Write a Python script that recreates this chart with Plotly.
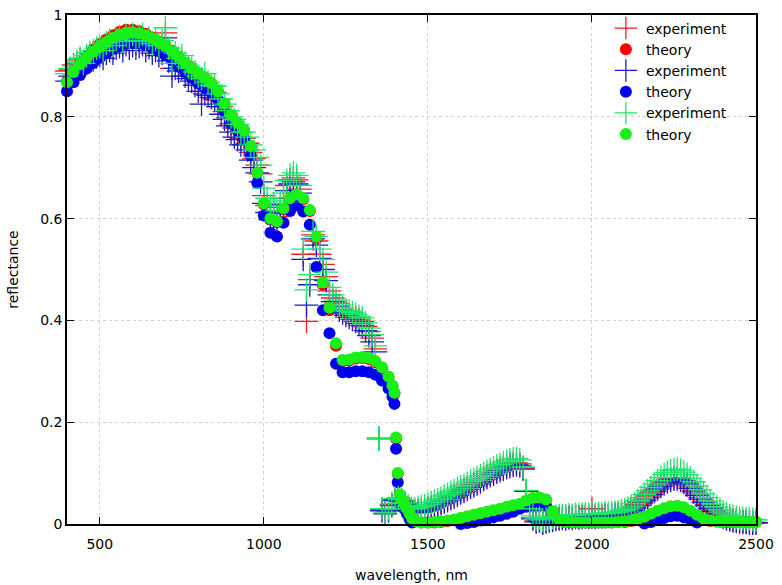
import plotly.graph_objects as go

# ---------------- data ----------------
# experiment wavelength grid (nm)
exp_wl = list(range(400, 2501, 10))

exp_green = [
    0.885, 0.895, 0.900, 0.908, 0.915, 0.905, 0.920, 0.926, 0.930, 0.935,
    0.938, 0.930, 0.945, 0.950, 0.940, 0.952, 0.958, 0.948, 0.960, 0.955,
    0.962, 0.950, 0.958, 0.962, 0.948, 0.955, 0.944, 0.952, 0.940, 0.950,
    0.975, 0.935, 0.905, 0.925, 0.915, 0.920, 0.905, 0.898, 0.895, 0.888,
    0.880, 0.875, 0.885, 0.868, 0.862, 0.860, 0.845, 0.835, 0.825, 0.812,
    0.800, 0.795, 0.785, 0.770, 0.770, 0.760, 0.745, 0.735, 0.720, 0.705,
    0.660, 0.640, 0.625, 0.630, 0.615, 0.635, 0.650, 0.675, 0.685, 0.690,
    0.685, 0.665, 0.540, 0.460, 0.490, 0.575, 0.565, 0.540, 0.520, 0.495,
    0.465, 0.450, 0.440, 0.430, 0.425, 0.420, 0.418, 0.415, 0.412, 0.408,
    0.405, 0.395, 0.385, 0.372, 0.350, 0.168, 0.030, 0.022, 0.030, 0.040,
    0.050, 0.052, 0.048, 0.042, 0.035, 0.030, 0.030, 0.032, 0.034, 0.036,
    0.039, 0.042, 0.045, 0.048, 0.051, 0.055, 0.058, 0.062, 0.065, 0.069,
    0.073, 0.076, 0.080, 0.084, 0.087, 0.091, 0.095, 0.099, 0.103, 0.107,
    0.110, 0.114, 0.117, 0.120, 0.123, 0.126, 0.128, 0.129, 0.126, 0.112,
    0.066, 0.030, 0.016, 0.010, 0.012, 0.008, 0.010, 0.012, 0.013, 0.015,
    0.016, 0.017, 0.016, 0.018, 0.017, 0.019, 0.018, 0.019, 0.020, 0.019,
    0.020, 0.019, 0.021, 0.020, 0.022, 0.021, 0.022, 0.023, 0.024, 0.026,
    0.028, 0.031, 0.035, 0.040, 0.046, 0.052, 0.058, 0.065, 0.072, 0.079,
    0.085, 0.091, 0.097, 0.101, 0.105, 0.107, 0.108, 0.106, 0.102, 0.097,
    0.090, 0.083, 0.075, 0.067, 0.059, 0.052, 0.045, 0.039, 0.033, 0.028,
    0.024, 0.020, 0.017, 0.015, 0.013, 0.012, 0.011, 0.010, 0.010, 0.009,
    0.008,
]

exp_blue = [
    0.870, 0.880, 0.885, 0.890, 0.896, 0.895, 0.905, 0.910, 0.912, 0.918,
    0.920, 0.915, 0.925, 0.930, 0.925, 0.935, 0.938, 0.930, 0.942, 0.935,
    0.940, 0.935, 0.938, 0.942, 0.930, 0.936, 0.925, 0.930, 0.920, 0.925,
    0.955, 0.910, 0.880, 0.895, 0.890, 0.895, 0.880, 0.875, 0.870, 0.862,
    0.850, 0.825, 0.845, 0.842, 0.838, 0.835, 0.820, 0.805, 0.795, 0.782,
    0.770, 0.760, 0.755, 0.745, 0.745, 0.735, 0.715, 0.700, 0.690, 0.672,
    0.630, 0.612, 0.598, 0.600, 0.592, 0.610, 0.628, 0.655, 0.668, 0.672,
    0.668, 0.650, 0.520, 0.430, 0.470, 0.560, 0.548, 0.522, 0.500, 0.478,
    0.450, 0.437, 0.428, 0.420, 0.415, 0.410, 0.406, 0.402, 0.398, 0.394,
    0.390, 0.380, 0.370, 0.358, 0.338, 0.168, 0.026, 0.020, 0.026, 0.036,
    0.046, 0.048, 0.044, 0.038, 0.030, 0.024, 0.022, 0.023, 0.024, 0.026,
    0.028, 0.031, 0.034, 0.037, 0.040, 0.043, 0.046, 0.050, 0.053, 0.057,
    0.061, 0.064, 0.068, 0.072, 0.075, 0.079, 0.083, 0.087, 0.091, 0.095,
    0.098, 0.102, 0.105, 0.108, 0.111, 0.113, 0.115, 0.116, 0.114, 0.108,
    0.064, 0.026, 0.010, 0.004, 0.006, 0.002, 0.004, 0.006, 0.007, 0.009,
    0.010, 0.011, 0.010, 0.012, 0.011, 0.013, 0.012, 0.013, 0.014, 0.013,
    0.014, 0.013, 0.015, 0.014, 0.016, 0.015, 0.016, 0.017, 0.018, 0.020,
    0.021, 0.024, 0.027, 0.031, 0.036, 0.041, 0.046, 0.052, 0.058, 0.064,
    0.069, 0.074, 0.079, 0.083, 0.086, 0.088, 0.088, 0.086, 0.082, 0.077,
    0.070, 0.063, 0.056, 0.049, 0.042, 0.036, 0.030, 0.025, 0.020, 0.016,
    0.013, 0.010, 0.008, 0.006, 0.005, 0.004, 0.003, 0.003, 0.002, 0.002,
    0.002,
]

exp_red = [
    0.890, 0.892, 0.902, 0.905, 0.912, 0.903, 0.915, 0.920, 0.925, 0.928,
    0.930, 0.925, 0.940, 0.942, 0.935, 0.945, 0.950, 0.942, 0.952, 0.946,
    0.952, 0.944, 0.950, 0.955, 0.940, 0.946, 0.936, 0.942, 0.932, 0.940,
    0.965, 0.925, 0.895, 0.912, 0.905, 0.908, 0.893, 0.888, 0.884, 0.876,
    0.866, 0.850, 0.866, 0.856, 0.851, 0.848, 0.833, 0.820, 0.810, 0.798,
    0.786, 0.778, 0.770, 0.758, 0.758, 0.748, 0.730, 0.718, 0.705, 0.688,
    0.645, 0.626, 0.612, 0.615, 0.604, 0.622, 0.640, 0.665, 0.676, 0.680,
    0.676, 0.658, 0.530, 0.398, 0.480, 0.568, 0.556, 0.530, 0.510, 0.486,
    0.458, 0.444, 0.434, 0.425, 0.420, 0.415, 0.412, 0.408, 0.405, 0.401,
    0.398, 0.388, 0.378, 0.365, 0.344, 0.168, 0.028, 0.021, 0.028, 0.038,
    0.048, 0.050, 0.046, 0.040, 0.032, 0.026, 0.025, 0.026, 0.027, 0.029,
    0.031, 0.034, 0.037, 0.040, 0.043, 0.047, 0.050, 0.054, 0.057, 0.061,
    0.065, 0.068, 0.072, 0.076, 0.079, 0.083, 0.087, 0.091, 0.095, 0.099,
    0.102, 0.106, 0.109, 0.112, 0.115, 0.117, 0.119, 0.120, 0.118, 0.110,
    0.065, 0.028, 0.012, 0.006, 0.008, 0.004, 0.006, 0.008, 0.009, 0.011,
    0.012, 0.013, 0.012, 0.014, 0.013, 0.015, 0.014, 0.015, 0.016, 0.015,
    0.030, 0.015, 0.017, 0.016, 0.018, 0.017, 0.018, 0.019, 0.020, 0.022,
    0.023, 0.026, 0.029, 0.033, 0.038, 0.043, 0.049, 0.055, 0.061, 0.067,
    0.072, 0.077, 0.082, 0.086, 0.089, 0.091, 0.091, 0.089, 0.085, 0.080,
    0.073, 0.066, 0.059, 0.052, 0.045, 0.038, 0.032, 0.027, 0.022, 0.018,
    0.015, 0.012, 0.010, 0.008, 0.007, 0.006, 0.005, 0.004, 0.004, 0.003,
    0.003,
]

# theory wavelength grid (nm)
th_wl = [
    400, 420, 440, 460, 480, 500, 520, 540, 560, 580,
    600, 620, 640, 660, 680, 700, 720, 740, 760, 780,
    800, 820, 840, 860, 880, 900, 920, 940, 960, 980,
    1000, 1020, 1040, 1060, 1080, 1100, 1120, 1140, 1160, 1180,
    1200, 1220, 1240, 1260, 1280, 1300, 1320, 1340, 1360, 1380,
    1392, 1398, 1403, 1408, 1414, 1420, 1428, 1436, 1444, 1452, 1460,
    1480, 1500, 1520, 1540, 1560, 1580, 1600, 1620, 1640, 1660,
    1680, 1700, 1720, 1740, 1760, 1780, 1800, 1820, 1840, 1860,
    1880, 1900, 1920, 1940, 1960, 1980, 2000, 2020, 2040, 2060,
    2080, 2100, 2120, 2140, 2160, 2180, 2200, 2220, 2240, 2260,
    2280, 2300, 2320, 2340, 2360, 2380, 2400, 2420, 2440, 2460,
    2480, 2500,
]

th_green = [
    0.868, 0.888, 0.903, 0.916, 0.928, 0.938, 0.947, 0.955, 0.961, 0.965,
    0.966, 0.964, 0.960, 0.954, 0.947, 0.939, 0.929, 0.918, 0.906, 0.895,
    0.885, 0.876, 0.866, 0.850, 0.826, 0.803, 0.788, 0.773, 0.742, 0.690,
    0.630, 0.600, 0.595, 0.620, 0.640, 0.648, 0.640, 0.617, 0.565, 0.475,
    0.425, 0.355, 0.322, 0.323, 0.327, 0.328, 0.326, 0.320, 0.308, 0.290,
    0.272, 0.258, 0.170, 0.100, 0.058, 0.048, 0.040, 0.030, 0.020, 0.011, 0.006,
    0.003, 0.003, 0.004, 0.005, 0.007, 0.009, 0.012, 0.015, 0.018, 0.021,
    0.024, 0.027, 0.030, 0.034, 0.037, 0.040, 0.046, 0.051, 0.052, 0.048,
    0.025, 0.008, 0.004, 0.003, 0.003, 0.003, 0.003, 0.003, 0.003, 0.003,
    0.004, 0.005, 0.007, 0.010, 0.014, 0.020, 0.026, 0.031, 0.035, 0.036,
    0.033, 0.026, 0.018, 0.011, 0.007, 0.005, 0.004, 0.004, 0.004, 0.004,
    0.004, 0.004,
]

th_blue = [
    0.850, 0.868, 0.882, 0.895, 0.906, 0.916, 0.925, 0.933, 0.939, 0.943,
    0.945, 0.944, 0.941, 0.936, 0.929, 0.921, 0.911, 0.900, 0.888, 0.877,
    0.866, 0.857, 0.848, 0.833, 0.810, 0.787, 0.772, 0.756, 0.724, 0.670,
    0.606, 0.572, 0.565, 0.592, 0.615, 0.626, 0.614, 0.588, 0.505, 0.420,
    0.375, 0.315, 0.298, 0.298, 0.300, 0.300, 0.298, 0.293, 0.282, 0.266,
    0.250, 0.236, 0.148, 0.082, 0.046, 0.038, 0.030, 0.020, 0.010, 0.003, -0.002,
    -0.004, -0.005, -0.005, -0.004, -0.003, -0.002, 0.000, 0.002, 0.004, 0.007,
    0.010, 0.013, 0.016, 0.020, 0.024, 0.030, 0.034, 0.040, 0.041, 0.036,
    0.012, -0.003, -0.006, -0.007, -0.007, -0.007, -0.007, -0.007, -0.006, -0.006,
    -0.005, -0.004, -0.003, -0.001, 0.001, 0.004, 0.008, 0.012, 0.015, 0.016,
    0.013, 0.008, 0.003, -0.001, -0.004, -0.005, -0.006, -0.006, -0.006, -0.006,
    -0.005, -0.005,
]

th_red = [
    0.870, 0.890, 0.906, 0.919, 0.932, 0.943, 0.952, 0.960, 0.967, 0.971,
    0.971, 0.968, 0.963, 0.956, 0.948, 0.940, 0.930, 0.918, 0.906, 0.895,
    0.885, 0.876, 0.866, 0.850, 0.826, 0.803, 0.788, 0.773, 0.742, 0.690,
    0.628, 0.598, 0.593, 0.618, 0.638, 0.646, 0.638, 0.615, 0.560, 0.470,
    0.420, 0.350, 0.320, 0.321, 0.325, 0.326, 0.324, 0.318, 0.306, 0.288,
    0.270, 0.256, 0.168, 0.098, 0.056, 0.047, 0.039, 0.029, 0.019, 0.010, 0.005,
    0.003, 0.003, 0.003, 0.004, 0.006, 0.008, 0.011, 0.014, 0.017, 0.020,
    0.023, 0.026, 0.029, 0.033, 0.036, 0.039, 0.045, 0.050, 0.051, 0.047,
    0.024, 0.007, 0.004, 0.003, 0.003, 0.003, 0.003, 0.003, 0.003, 0.003,
    0.004, 0.004, 0.006, 0.009, 0.013, 0.019, 0.025, 0.030, 0.034, 0.035,
    0.032, 0.025, 0.017, 0.010, 0.006, 0.005, 0.004, 0.004, 0.004, 0.004,
    0.004, 0.004,
]

x_ticks = [500, 1000, 1500, 2000, 2500]
y_ticks = [0, 0.2, 0.4, 0.6, 0.8, 1]
y_tick_labels = ["0", "0.2", "0.4", "0.6", "0.8", "1"]

# ---------------- figure ----------------
series = [
    ("experiment", exp_wl, exp_red, "#ff1a1a", "cross"),
    ("theory", th_wl, th_red, "#ff0000", "circle"),
    ("experiment", exp_wl, exp_blue, "#1a1acc", "cross"),
    ("theory", th_wl, th_blue, "#0000ee", "circle"),
    ("experiment", exp_wl, exp_green, "#19e86a", "cross"),
    ("theory", th_wl, th_green, "#18f018", "circle"),
]

fig = go.Figure()
for name, xs, ys, col, kind in series:
    if kind == "cross":
        marker = dict(symbol="cross-thin", size=17, color=col,
                      line=dict(width=1.3, color=col))
    else:
        marker = dict(symbol="circle", size=12, color=col, line=dict(width=0))
    fig.add_trace(go.Scatter(x=xs, y=ys, mode="markers", name=name,
                             marker=marker, cliponaxis=False))

font_family = "DejaVu Sans, Verdana, sans-serif"

fig.update_layout(
    width=782, height=585,
    margin=dict(l=67, r=26, t=12, b=61),
    paper_bgcolor="white", plot_bgcolor="white",
    font=dict(family=font_family, size=14, color="black"),
    showlegend=True,
    legend=dict(x=0.965, y=1.005, xanchor="right", yanchor="top",
                bgcolor="rgba(0,0,0,0)", borderwidth=0,
                font=dict(size=14), tracegroupgap=0, itemsizing="trace"),
)

fig.update_xaxes(
    range=[400, 2500], tickvals=x_ticks,
    showline=True, linecolor="black", linewidth=1.5, mirror="allticks",
    ticks="inside", ticklen=7, tickcolor="black", tickwidth=1.2,
    ticklabelstandoff=6,
    showgrid=True, gridcolor="#d2d2d2", griddash="dot", gridwidth=1,
    zeroline=False, automargin=False,
    title=dict(text="wavelength, nm", standoff=20, font=dict(size=14)),
)
fig.update_yaxes(
    range=[0, 1], tickvals=y_ticks, ticktext=y_tick_labels,
    showline=True, linecolor="black", linewidth=1.5, mirror="allticks",
    ticks="inside", ticklen=7, tickcolor="black", tickwidth=1.2,
    showgrid=True, gridcolor="#d2d2d2", griddash="dot", gridwidth=1,
    zeroline=False, automargin=False,
    title=dict(text="reflectance", standoff=18, font=dict(size=14)),
)

fig.write_html(
    "out.html",
    config={"displayModeBar": False},
    post_script="document.body.style.margin='0';document.body.style.padding='0';",
)
